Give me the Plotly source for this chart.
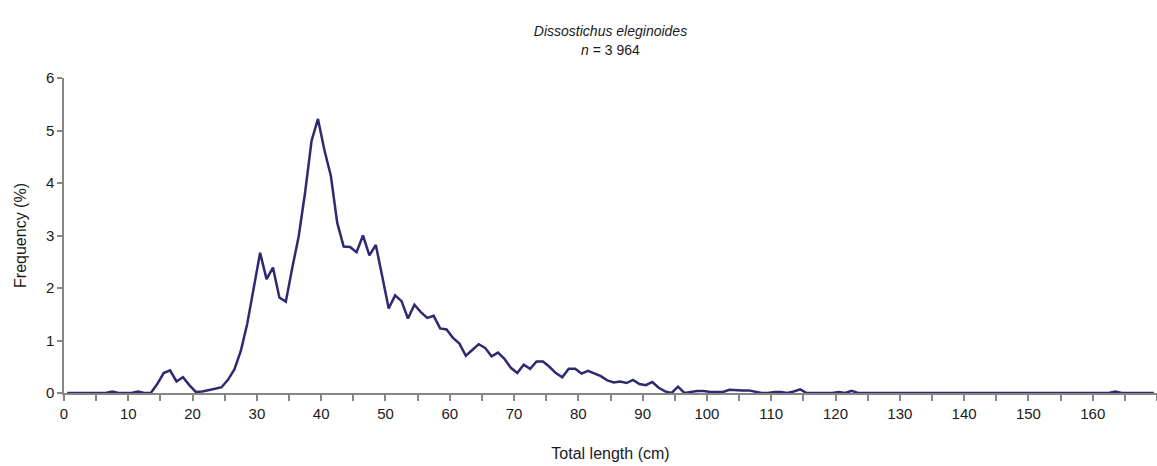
import plotly.graph_objects as go

# Length classes (cm, lower bound of 1-cm class) and frequency (%)
length_class = list(range(0, 170))
frequency = [
    0, 0, 0, 0, 0, 0, 0, 0.03, 0, 0,            # 0-9
    0, 0.03, 0, 0, 0.17, 0.38, 0.43, 0.22, 0.30, 0.15,   # 10-19
    0.02, 0.03, 0.05, 0.08, 0.11, 0.25, 0.45, 0.80, 1.32, 1.97,  # 20-29
    2.67, 2.17, 2.39, 1.82, 1.74, 2.38, 2.98, 3.82, 4.80, 5.22,  # 30-39
    4.63, 4.14, 3.24, 2.79, 2.78, 2.68, 3.00, 2.62, 2.82, 2.22,  # 40-49
    1.61, 1.86, 1.75, 1.42, 1.68, 1.54, 1.43, 1.47, 1.23, 1.21,  # 50-59
    1.05, 0.94, 0.71, 0.82, 0.93, 0.86, 0.70, 0.77, 0.65, 0.48,  # 60-69
    0.38, 0.54, 0.46, 0.60, 0.60, 0.50, 0.38, 0.30, 0.46, 0.46,  # 70-79
    0.37, 0.42, 0.37, 0.32, 0.24, 0.20, 0.22, 0.19, 0.25, 0.17,  # 80-89
    0.15, 0.21, 0.10, 0.03, 0.0, 0.12, 0.0, 0.02, 0.04, 0.04,    # 90-99
    0.02, 0.02, 0.02, 0.06, 0.05, 0.05, 0.05, 0.03, 0.0, 0.0,    # 100-109
    0.02, 0.02, 0.0, 0.03, 0.07, 0, 0, 0, 0, 0,                  # 110-119
    0.02, 0, 0.04, 0, 0, 0, 0, 0, 0, 0,                          # 120-129
    0, 0, 0, 0, 0, 0, 0, 0, 0, 0,                                # 130-139
    0, 0, 0, 0, 0, 0, 0, 0, 0, 0,                                # 140-149
    0, 0, 0, 0, 0, 0, 0, 0, 0, 0,                                # 150-159
    0, 0, 0, 0.03, 0, 0, 0, 0, 0, 0,                             # 160-169
]

x_ticks = list(range(0, 171, 5))
x_tick_labels = [str(v) if (v % 10 == 0 and v <= 160) else "" for v in x_ticks]
y_ticks = [0, 1, 2, 3, 4, 5, 6]

# plot each class at its midpoint
x_mid = [c + 0.5 for c in length_class]

FONT = "Liberation Sans, Arial, sans-serif"
AXIS_COLOR = "#868686"
TEXT_COLOR = "#1a1a1a"

fig = go.Figure()
fig.add_trace(go.Scatter(
    x=x_mid, y=frequency, mode="lines",
    line=dict(color="#2E2A72", width=2.5),
    showlegend=False, hoverinfo="x+y",
))

fig.update_layout(
    width=1157, height=466,
    margin=dict(l=64, r=0, t=78, b=73),
    paper_bgcolor="white", plot_bgcolor="white",
    font=dict(family=FONT, size=15, color=TEXT_COLOR),
    title=dict(
        text="<i>Dissostichus eleginoides</i><br><i>n</i> = 3 964",
        x=0.5, xref="paper", xanchor="center",
        y=0.922, yref="container", yanchor="top",
        font=dict(family=FONT, size=14, color=TEXT_COLOR),
    ),
    xaxis=dict(
        range=[0, 170], tickmode="array", tickvals=x_ticks, ticktext=x_tick_labels,
        showline=True, linecolor=AXIS_COLOR, linewidth=1.5,
        ticks="outside", ticklen=6, tickcolor=AXIS_COLOR, tickwidth=1.5,
        showgrid=False, zeroline=False,
        title=dict(text="Total length (cm)", standoff=27, font=dict(size=16)),
        tickfont=dict(size=15),
    ),
    yaxis=dict(
        range=[0, 6], tickmode="array", tickvals=y_ticks,
        showline=True, linecolor=AXIS_COLOR, linewidth=1.5,
        ticks="outside", ticklen=5, tickcolor=AXIS_COLOR, tickwidth=1.5,
        showgrid=False, zeroline=False,
        title=dict(text="Frequency (%)", standoff=15, font=dict(size=16)),
        tickfont=dict(size=15),
    ),
)

fig.write_html("out.html")
